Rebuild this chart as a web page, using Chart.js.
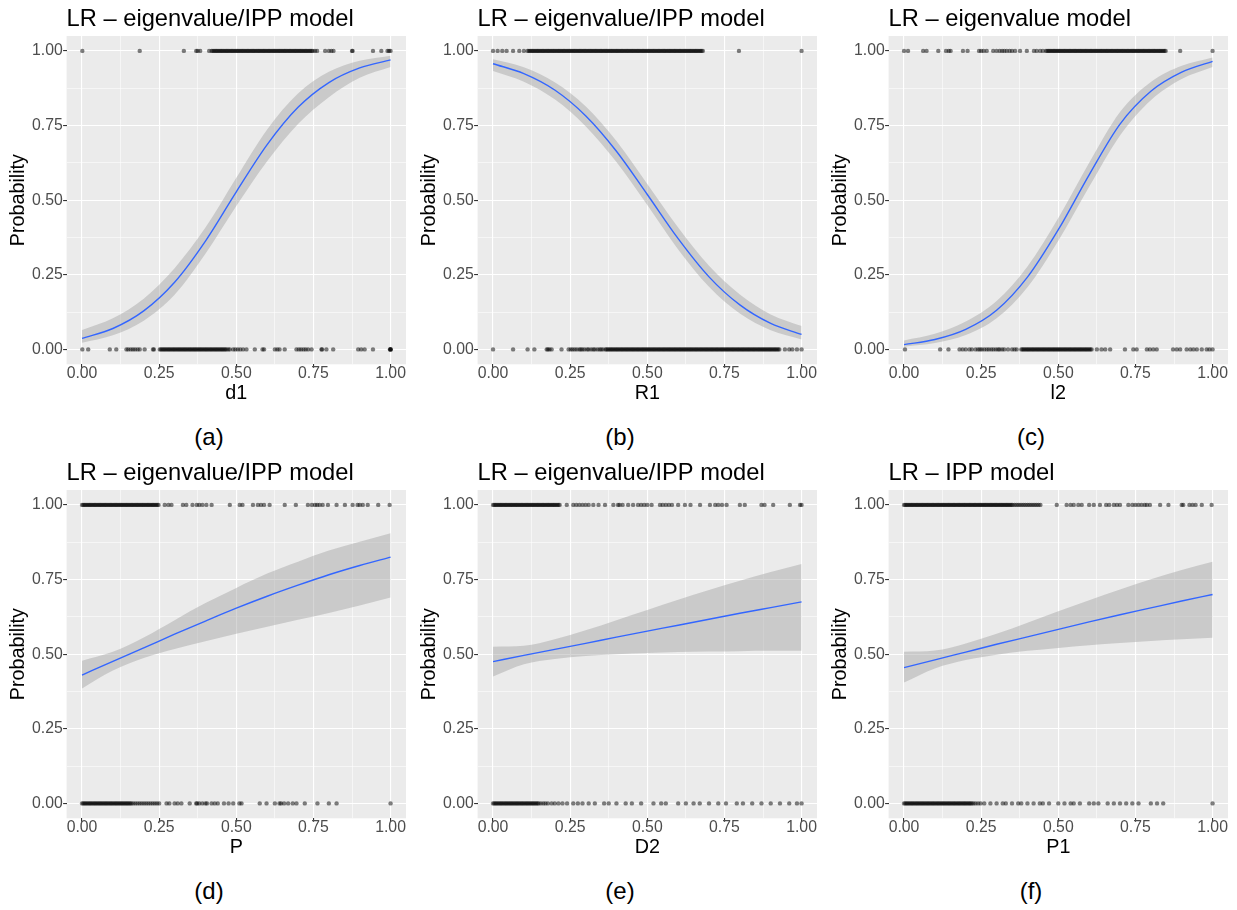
<!DOCTYPE html>
<html>
<head>
<meta charset="utf-8">
<script src="https://cdn.jsdelivr.net/npm/chart.js@4.4.0/dist/chart.umd.min.js"></script>
<style>
  body { margin: 0; background: #fff; }
  #fig { position: relative; width: 1237px; height: 910px; background: #fff; font-family: "Liberation Sans", Arial, sans-serif; }
  #fig canvas { position: absolute; }
  .cap { position: absolute; width: 200px; margin-left: -100px; text-align: center; font-size: 24px; line-height: 24px; color: #000; }
</style>
</head>
<body>
<div id="fig">
  <canvas id="pa" width="411" height="412" style="left:0px;top:0px"></canvas>
  <canvas id="pb" width="411" height="412" style="left:411px;top:0px"></canvas>
  <canvas id="pc" width="411" height="412" style="left:822px;top:0px"></canvas>
  <canvas id="pd" width="411" height="412" style="left:0px;top:454px"></canvas>
  <canvas id="pe" width="411" height="412" style="left:411px;top:454px"></canvas>
  <canvas id="pf" width="411" height="412" style="left:822px;top:454px"></canvas>
  <div class="cap" style="left:209px;top:425px">(a)</div>
  <div class="cap" style="left:620px;top:425px">(b)</div>
  <div class="cap" style="left:1031px;top:425px">(c)</div>
  <div class="cap" style="left:209px;top:879px">(d)</div>
  <div class="cap" style="left:620px;top:879px">(e)</div>
  <div class="cap" style="left:1031px;top:879px">(f)</div>
</div>
<script>
// axis ticks (same on x and y for every panel)
const majorTicks = [0, 0.25, 0.5, 0.75, 1];
const minorTicks = [0.125, 0.375, 0.625, 0.875];
const tickLabels = ['0.00', '0.25', '0.50', '0.75', '1.00'];

const fitX = [0, 0.1, 0.2, 0.3, 0.4, 0.5, 0.6, 0.7, 0.8, 0.9, 1];

// (a) d1
const a_ones = [.001,.187,.330,.370,.375,.383,.412,
  .420,.424,.428,.432,.436,.440,.444,.448,.452,.456,.460,.464,.468,.472,.476,.480,.484,.488,.492,.496,
  .500,.504,.508,.512,.516,.520,.524,.528,.532,.536,.540,.544,.548,.552,.556,.560,.564,.568,.572,.576,.580,.584,.588,.592,.596,
  .600,.604,.608,.612,.616,.620,.624,.628,.632,.636,.640,.644,.648,.652,.656,.660,.664,.668,.672,.676,.680,.684,.688,.692,.696,
  .700,.704,.708,.712,.716,.720,.724,.728,.732,.736,.740,.744,.748,
  .755,.762,.788,.800,.808,.815,.875,.877,.943,.970,.990,.995,1];
const a_zeros = [.001,.020,.090,.111,.144,.150,.158,.165,.172,.180,.187,.203,.230,.233,
  .252,.256,.260,.264,.268,.272,.276,.280,.284,.288,.292,.296,
  .300,.304,.308,.312,.316,.320,.324,.328,.332,.336,.340,.344,.348,.352,.356,.360,.364,.368,.372,.376,.380,.384,.388,.392,.396,
  .400,.404,.408,.412,.416,.420,.424,.428,.432,.436,.440,.444,.448,.452,.456,.460,.464,.468,
  .474,.479,.490,.497,.505,.513,.522,.533,.560,.585,.590,.625,.633,.640,.657,.695,.703,.710,.718,.725,.733,.744,
  .776,.778,.792,.814,.895,.905,.916,.943,.998,1,1,1];
const a_fit = [0.037, 0.070, 0.129, 0.225, 0.363, 0.528, 0.686, 0.811, 0.894, 0.943, 0.970];
const a_lo = [0.022, 0.047, 0.096, 0.183, 0.320, 0.480, 0.630, 0.755, 0.845, 0.910, 0.946];
const a_hi = [0.065, 0.104, 0.170, 0.272, 0.408, 0.575, 0.737, 0.857, 0.930, 0.967, 0.984];

// (b) R1
const b_ones = [0,.015,.030,.044,.065,.085,.100,
  .112,.116,.120,.124,.128,.132,.136,.140,.144,.148,.152,.156,.160,.164,.168,.172,.176,.180,.184,.188,.192,.196,
  .200,.204,.208,.212,.216,.220,.224,.228,.232,.236,.240,.244,.248,.252,.256,.260,.264,.268,.272,.276,.280,.284,.288,.292,.296,
  .300,.304,.308,.312,.316,.320,.324,.328,.332,.336,.340,.344,.348,.352,.356,.360,.364,.368,.372,.376,.380,.384,.388,.392,.396,
  .400,.404,.408,.412,.416,.420,.424,.428,.432,.436,.440,.444,.448,.452,.456,.460,.464,.468,.472,.476,.480,.484,.488,.492,.496,
  .500,.504,.508,.512,.516,.520,.524,.528,.532,.536,.540,.544,.548,.552,.556,.560,.564,.568,.572,.576,.580,.584,.588,.592,.596,
  .600,.604,.608,.612,.616,.620,.624,.628,.632,.636,.640,.644,.648,.652,.656,.660,.664,.668,.672,.676,.680,
  .797,1];
const b_zeros = [0,.065,.112,.134,.174,.178,.183,.190,.222,.245,.252,.258,.265,.272,.280,.285,.290,.297,.305,.310,.318,.325,.330,.338,.345,.350,.356,
  .364,.368,.372,.376,.380,.384,.388,.392,.396,
  .400,.404,.408,.412,.416,.420,.424,.428,.432,.436,.440,.444,.448,.452,.456,.460,.464,.468,.472,.476,.480,.484,.488,.492,.496,
  .500,.504,.508,.512,.516,.520,.524,.528,.532,.536,.540,.544,.548,.552,.556,.560,.564,.568,.572,.576,.580,.584,.588,.592,.596,
  .600,.604,.608,.612,.616,.620,.624,.628,.632,.636,.640,.644,.648,.652,.656,.660,.664,.668,.672,.676,.680,.684,.688,.692,.696,
  .700,.704,.708,.712,.716,.720,.724,.728,.732,.736,.740,.744,.748,.752,.756,.760,.764,.768,.772,.776,.780,.784,.788,.792,.796,
  .800,.804,.808,.812,.816,.820,.824,.828,.832,.836,.840,.844,.848,.852,.856,.860,.864,.868,.872,.876,.880,.884,.888,.892,.896,
  .900,.904,.908,.912,.916,.920,.924,.928,
  .946,.960,.970,.985,1];
const b_fit = [0.957, 0.924, 0.869, 0.783, 0.664, 0.519, 0.371, 0.243, 0.149, 0.087, 0.050];
const b_lo = [0.933, 0.897, 0.838, 0.748, 0.628, 0.484, 0.335, 0.210, 0.120, 0.064, 0.033];
const b_hi = [0.972, 0.945, 0.895, 0.815, 0.698, 0.554, 0.408, 0.280, 0.184, 0.117, 0.078];

// (c) l2
const c_ones = [0,.013,.062,.073,.111,.136,.145,.151,.191,.206,.243,.250,.258,.268,.289,.300,.310,.318,.325,.333,.342,.350,.360,.376,.398,.421,.430,.441,.450,
  .460,.464,.468,.472,.476,.480,.484,.488,.492,.496,
  .500,.504,.508,.512,.516,.520,.524,.528,.532,.536,.540,.544,.548,.552,.556,.560,.564,.568,.572,.576,.580,.584,.588,.592,.596,
  .600,.604,.608,.612,.616,.620,.624,.628,.632,.636,.640,.644,.648,.652,.656,.660,.664,.668,.672,.676,.680,.684,.688,.692,.696,
  .700,.704,.708,.712,.716,.720,.724,.728,.732,.736,.740,.744,.748,.752,.756,.760,.764,.768,.772,.776,.780,.784,.788,.792,.796,
  .800,.804,.808,.812,.816,.820,.824,.828,.832,.836,.840,.844,.848,
  .895,1];
const c_zeros = [.003,.117,.144,.180,.190,.200,.212,.220,.232,.240,.246,.252,.260,.268,.275,.283,.290,.298,.305,.310,.318,.325,.337,.350,.358,.365,
  .380,.384,.388,.392,.396,
  .400,.404,.408,.412,.416,.420,.424,.428,.432,.436,.440,.444,.448,.452,.456,.460,.464,.468,.472,.476,.480,.484,.488,.492,.496,
  .500,.504,.508,.512,.516,.520,.524,.528,.532,.536,.540,.544,.548,.552,.556,.560,.564,.568,.572,.576,.580,.584,.588,.592,.596,
  .600,.604,.608,
  .625,.640,.652,.668,.716,.743,.754,.787,.797,.808,.819,.872,.884,.895,.916,.928,.938,.949,.965,.981,.990,1];
const c_fit = [0.016, 0.033, 0.067, 0.131, 0.242, 0.401, 0.585, 0.755, 0.865, 0.929, 0.965];
const c_lo = [0.009, 0.021, 0.048, 0.104, 0.208, 0.364, 0.545, 0.717, 0.835, 0.906, 0.946];
const c_hi = [0.030, 0.052, 0.093, 0.162, 0.278, 0.440, 0.625, 0.795, 0.896, 0.950, 0.978];

// (d) P
const d_ones = [
  .000,.004,.008,.012,.016,.020,.024,.028,.032,.036,.040,.044,.048,.052,.056,.060,.064,.068,.072,.076,.080,.084,.088,.092,.096,
  .100,.104,.108,.112,.116,.120,.124,.128,.132,.136,.140,.144,.148,.152,.156,.160,.164,.168,.172,.176,.180,.184,.188,.192,.196,
  .200,.204,.208,.212,.216,.220,.224,.228,.232,.236,.240,.244,.248,
  .268,.280,.290,.327,.338,.358,.372,.380,.390,.403,.420,.479,.511,.520,.554,.570,.580,.590,.608,.657,.693,
  .732,.745,.755,.762,.770,.780,.797,.825,.852,.877,.893,.900,.910,.926,.960,.997];
const d_zeros = [
  .000,.004,.008,.012,.016,.020,.024,.028,.032,.036,.040,.044,.048,.052,.056,.060,.064,.068,.072,.076,.080,.084,.088,.092,.096,
  .100,.104,.108,.112,.116,.120,.124,.128,.132,.136,.140,.144,.148,.152,.156,.160,
  .166,.173,.180,.187,.194,.201,.208,.215,.222,.229,.236,.243,.250,
  .274,.283,.300,.310,.322,.349,.370,.373,.380,.390,.400,.405,.420,.430,.440,.460,.475,.490,.510,.517,
  .576,.598,.625,.640,.645,.655,.668,.683,.695,.722,.763,.800,.825,1];
const d_fit = [0.430, 0.476, 0.521, 0.567, 0.611, 0.654, 0.694, 0.731, 0.766, 0.797, 0.825];
const d_lo = [0.385, 0.445, 0.487, 0.517, 0.543, 0.568, 0.592, 0.615, 0.638, 0.663, 0.690];
const d_hi = [0.478, 0.508, 0.556, 0.614, 0.671, 0.722, 0.770, 0.810, 0.847, 0.877, 0.905];

// (e) D2
const e_ones = [
  .000,.004,.008,.012,.016,.020,.024,.028,.032,.036,.040,.044,.048,.052,.056,.060,.064,.068,.072,.076,.080,.084,.088,.092,.096,
  .100,.104,.108,.112,.116,.120,.124,.128,.132,.136,.140,.144,.148,.152,.156,.160,.164,.168,.172,.176,.180,.184,.188,.192,.196,
  .200,.204,.208,.212,.216,
  .239,.260,.270,.280,.290,.300,.310,.325,.342,.363,.390,.405,.410,.420,.438,.454,.470,.480,.490,.500,.514,
  .541,.550,.560,.570,.580,.600,.622,.640,.671,.703,.720,.730,.742,.757,.800,.816,.870,.880,.908,.962,.995,1];
const e_zeros = [
  .000,.004,.008,.012,.016,.020,.024,.028,.032,.036,.040,.044,.048,.052,.056,.060,.064,.068,.072,.076,.080,.084,.088,.092,.096,
  .100,.104,.108,.112,.116,.120,.124,.128,.132,.136,.140,.144,.148,
  .155,.163,.170,.178,.190,.200,.212,.225,.240,.260,.275,.290,.310,.330,.360,.375,.400,.430,.450,.480,.520,.545,
  .560,.600,.625,.650,.670,.700,.730,.755,.790,.810,.840,.870,.900,.930,.960,.985,1];
const e_fit = [0.475, 0.496, 0.516, 0.536, 0.557, 0.577, 0.597, 0.617, 0.637, 0.656, 0.675];
const e_lo = [0.425, 0.466, 0.484, 0.494, 0.500, 0.504, 0.507, 0.509, 0.510, 0.511, 0.511];
const e_hi = [0.525, 0.528, 0.550, 0.580, 0.614, 0.648, 0.682, 0.715, 0.746, 0.775, 0.802];

// (f) P1
const f_ones = [
  .000,.004,.008,.012,.016,.020,.024,.028,.032,.036,.040,.044,.048,.052,.056,.060,.064,.068,.072,.076,.080,.084,.088,.092,.096,
  .100,.104,.108,.112,.116,.120,.124,.128,.132,.136,.140,.144,.148,.152,.156,.160,.164,.168,.172,.176,.180,.184,.188,.192,.196,
  .200,.204,.208,.212,.216,.220,.224,.228,.232,.236,.240,.244,.248,.252,.256,.260,.264,.268,.272,.276,.280,.284,.288,.292,.296,
  .300,.304,.308,.312,.316,.320,.324,.328,.332,.336,.340,.344,.348,.352,
  .358,.364,.370,.376,.382,.388,.394,.400,.406,.412,.418,.424,.430,.436,.442,
  .495,.527,.540,.550,.565,.576,.600,.615,.635,.655,.665,.680,.690,.700,.727,.740,.750,.760,.770,.780,.787,.797,
  .830,.857,.900,.905,.925,.935,.945,.965,.997];
const f_zeros = [
  .000,.004,.008,.012,.016,.020,.024,.028,.032,.036,.040,.044,.048,.052,.056,.060,.064,.068,.072,.076,.080,.084,.088,.092,.096,
  .100,.104,.108,.112,.116,.120,.124,.128,.132,.136,.140,.144,.148,.152,.156,.160,.164,.168,.172,.176,.180,.184,.188,.192,.196,
  .200,.204,.208,.212,.216,.220,
  .225,.232,.240,.248,.260,.280,.300,.320,.330,.350,.370,.380,.400,.420,.440,.450,.470,.500,.520,.540,.550,.570,
  .600,.615,.630,.660,.680,.700,.720,.740,.760,.800,.820,.840,1];
const f_fit = [0.455, 0.481, 0.507, 0.533, 0.558, 0.583, 0.608, 0.632, 0.655, 0.678, 0.700];
const f_lo = [0.405, 0.452, 0.480, 0.498, 0.511, 0.521, 0.530, 0.537, 0.544, 0.550, 0.555];
const f_hi = [0.508, 0.512, 0.536, 0.568, 0.605, 0.644, 0.681, 0.717, 0.751, 0.782, 0.810];

const FONT = '"Liberation Sans", Arial, sans-serif';
const allTicks = majorTicks.concat(minorTicks).sort((p, q) => p - q);
const isMajor = v => majorTicks.indexOf(v) >= 0;

// grey ggplot panel
const panelBg = {
  id: 'panelBg',
  beforeDraw(chart) {
    const { ctx, chartArea: a } = chart;
    ctx.save();
    ctx.fillStyle = '#EBEBEB';
    ctx.fillRect(a.left, a.top, a.right - a.left, a.bottom - a.top);
    ctx.restore();
  }
};

function axis(pos, title) {
  const left = pos === 'left';
  return {
    type: 'linear',
    position: pos,
    min: -0.05,
    max: 1.05,
    afterBuildTicks: s => { s.ticks = allTicks.map(v => ({ value: v })); },
    afterFit: s => { if (left) s.width = 66.6; else s.height = 46; },
    grid: {
      color: '#FFFFFF',
      lineWidth: c => (c.tick && isMajor(c.tick.value)) ? 1.1 : 0.55,
      tickColor: c => (c.tick && isMajor(c.tick.value)) ? '#333333' : 'rgba(0,0,0,0)',
      tickLength: 3.5,
      tickWidth: 1.1
    },
    border: { display: false },
    ticks: {
      autoSkip: false,
      maxRotation: 0,
      padding: left ? 0.4 : -1.7,
      color: '#4D4D4D',
      font: { family: FONT, size: 15.8, lineHeight: 1 },
      callback: v => isMajor(v) ? tickLabels[majorTicks.indexOf(v)] : ''
    },
    title: {
      display: true,
      text: title,
      color: '#000000',
      font: { family: FONT, size: 19.75, lineHeight: 1.2 },
      padding: left ? { top: 6.2, bottom: 0 } : { top: 0, bottom: 4.75 }
    }
  };
}

const pts = (xs, y) => xs.map(x => ({ x: x, y: y }));
const curve = ys => fitX.map((x, i) => ({ x: x, y: ys[i] }));

function makePanel(id, title, xTitle, ones, zeros, fit, lo, hi) {
  const dotStyle = {
    showLine: false,
    pointRadius: 2.2,
    pointBackgroundColor: 'rgba(0,0,0,0.5)',
    pointBorderWidth: 0,
    pointHoverRadius: 0
  };
  new Chart(document.getElementById(id), {
    type: 'line',
    data: {
      datasets: [
        { data: curve(fit), borderColor: '#3366FF', borderWidth: 1.4, pointRadius: 0, fill: false, cubicInterpolationMode: 'monotone' },
        { data: curve(lo), borderColor: 'rgba(0,0,0,0)', borderWidth: 0, pointRadius: 0, fill: false, cubicInterpolationMode: 'monotone' },
        { data: curve(hi), borderColor: 'rgba(0,0,0,0)', borderWidth: 0, pointRadius: 0, fill: '-1',
          backgroundColor: 'rgba(153,153,153,0.4)', cubicInterpolationMode: 'monotone' },
        Object.assign({ data: pts(ones, 1) }, dotStyle),
        Object.assign({ data: pts(zeros, 0) }, dotStyle)
      ]
    },
    options: {
      responsive: false,
      devicePixelRatio: 1,
      animation: false,
      events: [],
      layout: { padding: { left: 0, right: 5, top: 0, bottom: 1.7 } },
      scales: {
        x: axis('bottom', xTitle),
        y: axis('left', 'Probability')
      },
      plugins: {
        legend: { display: false },
        tooltip: { enabled: false },
        title: {
          display: true,
          text: title,
          align: 'start',
          fullSize: false,
          color: '#000000',
          font: { family: FONT, size: 23.7, weight: 'normal', lineHeight: 1.2 },
          padding: { top: 5, bottom: 2.56 }
        }
      }
    },
    plugins: [panelBg]
  });
}

makePanel('pa', 'LR – eigenvalue/IPP model', 'd1', a_ones, a_zeros, a_fit, a_lo, a_hi);
makePanel('pb', 'LR – eigenvalue/IPP model', 'R1', b_ones, b_zeros, b_fit, b_lo, b_hi);
makePanel('pc', 'LR – eigenvalue model', 'l2', c_ones, c_zeros, c_fit, c_lo, c_hi);
makePanel('pd', 'LR – eigenvalue/IPP model', 'P', d_ones, d_zeros, d_fit, d_lo, d_hi);
makePanel('pe', 'LR – eigenvalue/IPP model', 'D2', e_ones, e_zeros, e_fit, e_lo, e_hi);
makePanel('pf', 'LR – IPP model', 'P1', f_ones, f_zeros, f_fit, f_lo, f_hi);
</script>
</body>
</html>
